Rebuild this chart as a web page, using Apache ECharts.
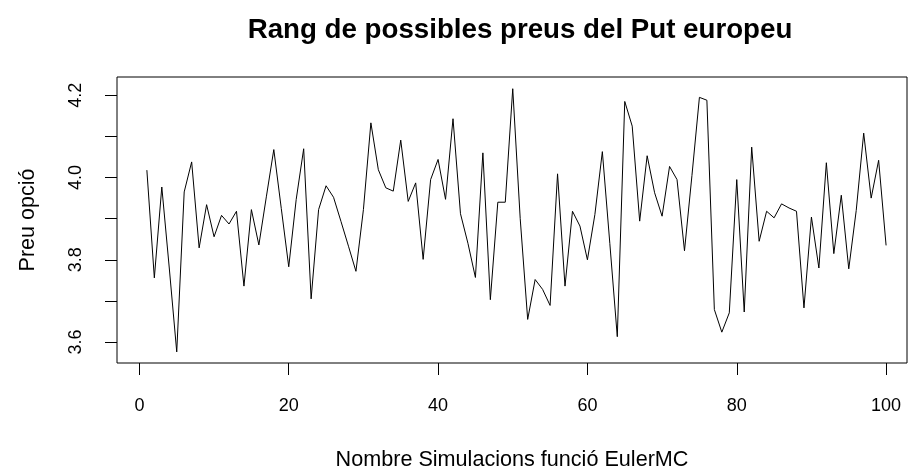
<!DOCTYPE html>
<html>
<head>
<meta charset="utf-8">
<script src="https://cdn.jsdelivr.net/npm/echarts@6/dist/echarts.min.js"></script>
<style>
  html, body { margin: 0; padding: 0; background: #fff; }
  #chart { width: 910px; height: 473px; }
</style>
</head>
<body>
<div id="chart"></div>
<script>
// Simulated European put prices, one per run of EulerMC (runs 1..100)
const simulations = Array.from({ length: 100 }, (_, i) => i + 1);
const putPrices = [
  4.018, 3.756, 3.977, 3.780, 3.576, 3.965, 4.038, 3.829, 3.934, 3.856,
  3.908, 3.887, 3.918, 3.736, 3.922, 3.836, 3.953, 4.068, 3.925, 3.783,
  3.947, 4.070, 3.705, 3.922, 3.980, 3.952, 3.893, 3.833, 3.772, 3.922,
  4.133, 4.019, 3.975, 3.967, 4.091, 3.942, 3.987, 3.801, 3.995, 4.044,
  3.947, 4.143, 3.912, 3.840, 3.757, 4.060, 3.703, 3.940, 3.940, 4.216,
  3.900, 3.655, 3.752, 3.728, 3.689, 4.009, 3.736, 3.918, 3.882, 3.800,
  3.910, 4.063, 3.840, 3.613, 4.185, 4.125, 3.894, 4.053, 3.963, 3.906,
  4.027, 3.995, 3.822, 4.005, 4.195, 4.188, 3.679, 3.624, 3.671, 3.995,
  3.673, 4.074, 3.845, 3.918, 3.902, 3.936, 3.926, 3.918, 3.683, 3.904,
  3.780, 4.036, 3.815, 3.957, 3.778, 3.920, 4.108, 3.950, 4.042, 3.835
];
const xTickValues = [0, 20, 40, 60, 80, 100];
const yTickValues = [3.6, 3.7, 3.8, 3.9, 4.0, 4.1, 4.2];
const yLabelValues = [3.6, 3.8, 4.0, 4.2];

const titleText = 'Rang de possibles preus del Put europeu';
const xName = 'Nombre Simulacions funció EulerMC';
const yName = 'Preu opció';

const FONT = '"Liberation Sans", Arial, sans-serif';
const chart = echarts.init(document.getElementById('chart'), null, { renderer: 'canvas' });

chart.setOption({
  animation: false,
  backgroundColor: '#ffffff',
  title: {
    text: titleText,
    left: 515,
    textAlign: 'center',
    top: 11,
    textStyle: { fontFamily: FONT, fontWeight: 'bold', fontSize: 27.7, color: '#000' }
  },
  grid: {
    left: 117, right: 3, top: 77, bottom: 110,
    outerBoundsMode: 'none',
    containLabel: false,
    show: true, borderColor: '#000', borderWidth: 1, backgroundColor: 'transparent'
  },
  xAxis: {
    type: 'value',
    min: -3.0, max: 102.8,
    name: xName,
    nameLocation: 'middle',
    nameGap: 86,
    nameTextStyle: { fontFamily: FONT, fontSize: 21.6, color: '#000' },
    axisLine: { show: false, onZero: false },
    axisTick: { show: true, inside: false, length: 12, customValues: xTickValues,
                lineStyle: { color: '#000', width: 1 } },
    axisLabel: { customValues: xTickValues, margin: 34, fontFamily: FONT, fontSize: 18, color: '#000' },
    splitLine: { show: false }
  },
  yAxis: {
    type: 'value',
    min: 3.549, max: 4.2445,
    name: yName,
    nameLocation: 'middle',
    nameGap: 78,
    nameRotate: 90,
    nameTextStyle: { fontFamily: FONT, fontSize: 21.5, color: '#000' },
    axisLine: { show: false, onZero: false },
    axisTick: { show: true, inside: false, length: 12, customValues: yTickValues,
                lineStyle: { color: '#000', width: 1 } },
    axisLabel: { customValues: yLabelValues, rotate: 90, margin: 32, fontFamily: FONT, fontSize: 18, color: '#000',
                 formatter: v => v.toFixed(1) },
    splitLine: { show: false }
  },
  series: [{
    type: 'line',
    data: simulations.map((s, i) => [s, putPrices[i]]),
    symbol: 'none',
    lineStyle: { color: '#000', width: 1 }
  }]
});
</script>
</body>
</html>
